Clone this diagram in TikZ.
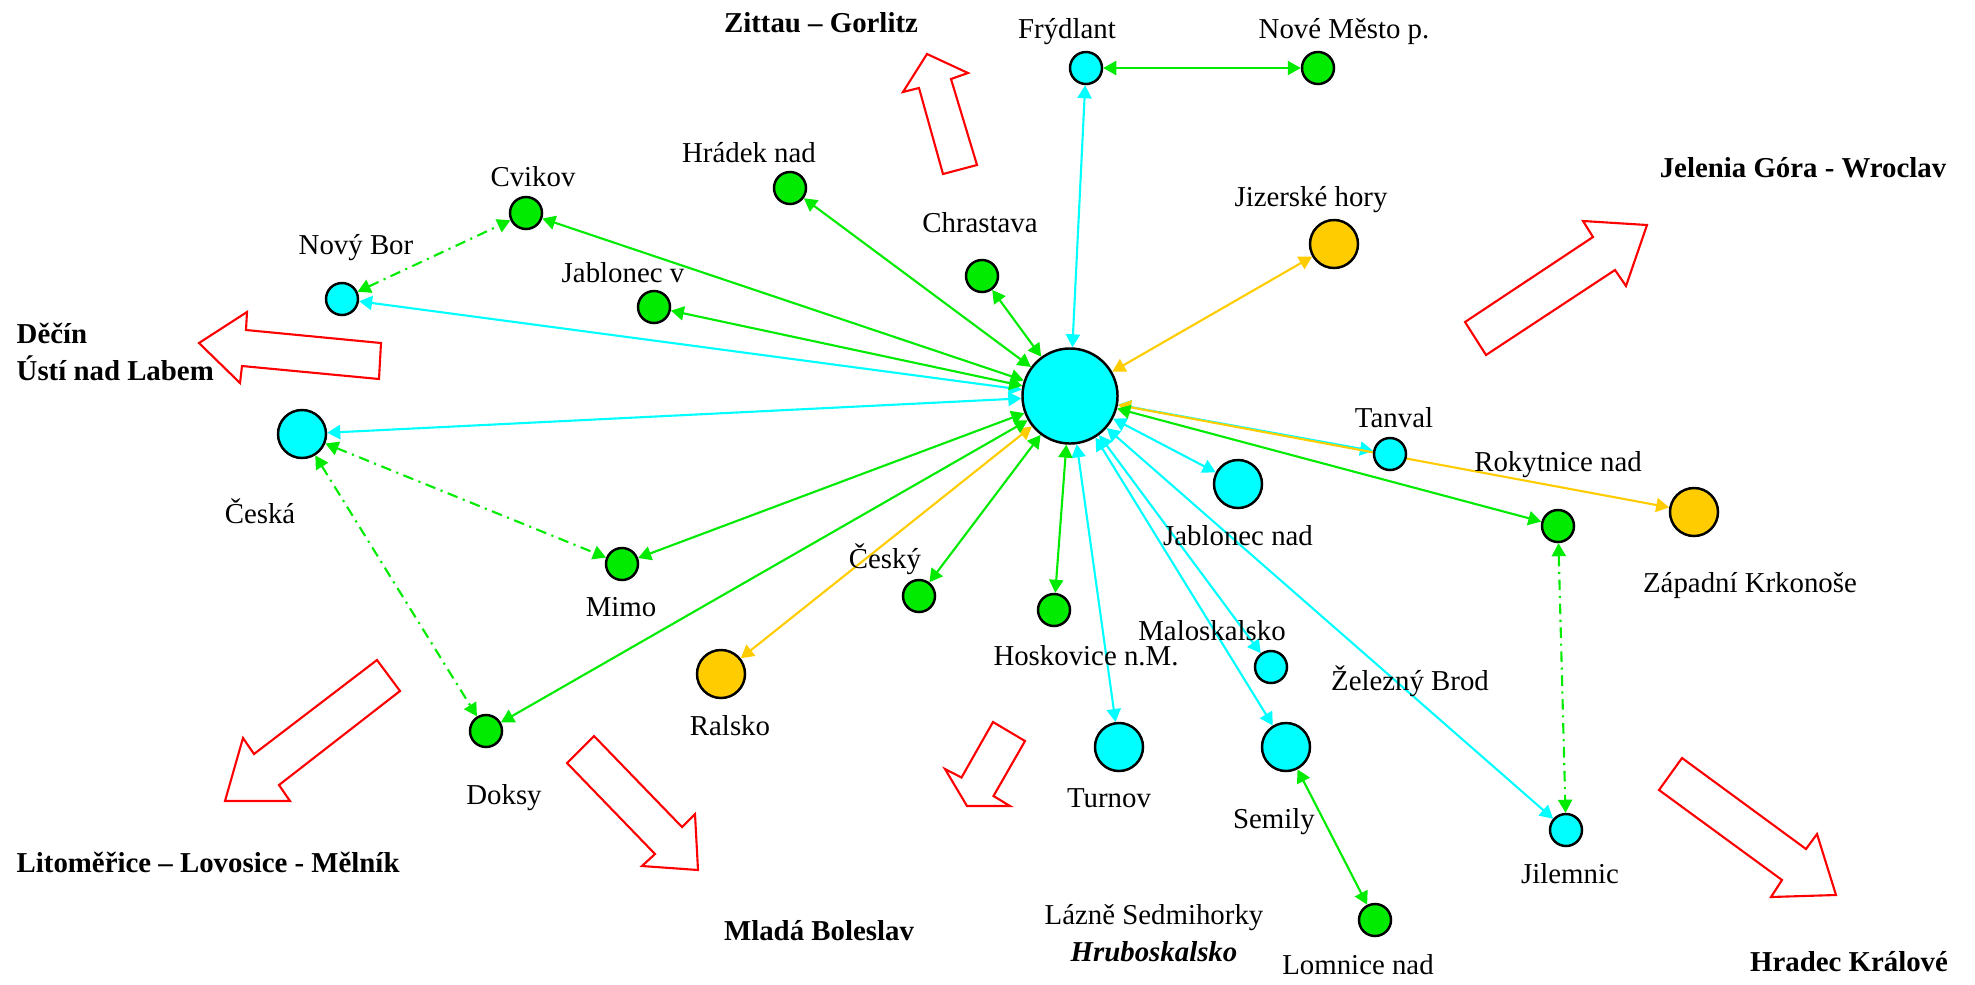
\documentclass[tikz,border=0pt]{standalone}
\usepackage{fontspec}
\setmainfont{Liberation Serif}
\usetikzlibrary{arrows.meta,backgrounds}
\definecolor{aqua}{RGB}{0,255,255}
\definecolor{lime}{RGB}{0,235,0}
\definecolor{gold}{RGB}{255,204,0}
\begin{document}
\begin{tikzpicture}[x=0.01cm, y=-0.01cm,
  town/.style={circle, draw, line width=0.7pt, inner sep=0pt, minimum size=0.32cm},
  mid/.style={town, minimum size=0.48cm},
  lab/.style={inner sep=0pt, font=\fontsize{8.2}{10}\selectfont},
  reg/.style={lab, font=\fontsize{8.2}{10}\selectfont\bfseries},
  link/.style={line width=0.6pt, {Triangle[length=3.7pt,width=4pt]}-{Triangle[length=3.7pt,width=4pt]}},
  alt/.style={link, dash pattern=on 3pt off 1.6pt on 0.6pt off 1.6pt},
  dir/.style={draw=red, line width=0.6pt, fill=white}]
\useasboundingbox (0,0) rectangle (1975,984);

\node[town, fill=aqua, minimum size=0.95cm] (lib) at (1070,396){};
\node[town, fill=aqua] (fry) at (1086,68){};
\node[town, fill=lime] (nmp) at (1318,68){};
\node[town, fill=lime] (hra) at (790,188){};
\node[town, fill=lime] (cvi) at (526,213){};
\node[town, fill=aqua] (nbo) at (342,299){};
\node[town, fill=lime] (jbv) at (654,307){};
\node[town, fill=lime] (chr) at (982,276){};
\node[mid, fill=gold] (jiz) at (1334,244){};
\node[mid, fill=aqua] (ces) at (302,434){};
\node[town, fill=lime] (mim) at (622,564){};
\node[town, fill=lime] (dok) at (486,731){};
\node[mid, fill=gold] (ral) at (721,674){};
\node[town, fill=lime] (cky) at (919,596){};
\node[town, fill=lime] (hos) at (1054,610){};
\node[mid, fill=aqua] (jbn) at (1238,484){};
\node[town, fill=aqua] (tan) at (1390,454){};
\node[town, fill=lime] (rok) at (1558,526){};
\node[mid, fill=gold] (zap) at (1694,512){};
\node[town, fill=aqua] (mal) at (1271,667){};
\node[mid, fill=aqua] (tur) at (1119,747){};
\node[mid, fill=aqua] (sem) at (1286,747){};
\node[town, fill=aqua] (jil) at (1566,830){};
\node[town, fill=lime] (lom) at (1375,920){};

\node[lab] (lfry) at (1067,32){Frýdlant};
\node[lab] (lnmp) at (1344,32){Nové Město p.};
\node[lab] (lhra) at (749,153){Hrádek nad};
\node[lab] (lcvi) at (533,177){Cvikov};
\node[lab] (lnbo) at (356,248){Nový Bor};
\node[lab] (ljbv) at (623,273){Jablonec v};
\node[lab] (lchr) at (980,223){Chrastava};
\node[lab] (ljiz) at (1311,200){Jizerské hory};
\node[lab] (lces) at (260,511){Česká};
\node[lab] (lmim) at (621,607){Mimo};
\node[lab] (ldok) at (504,798){Doksy};
\node[lab] (lral) at (730,726){Ralsko};
\node[lab] (lcky) at (885,559){Český};
\node[lab] (lhos) at (1086,656){Hoskovice n.M.};
\node[lab] (ljbn) at (1238,536){Jablonec nad};
\node[lab] (ltan) at (1394,418){Tanval};
\node[lab] (lrok) at (1558,465){Rokytnice nad};
\node[lab] (lzap) at (1750,586){Západní Krkonoše};
\node[lab] (lmal) at (1212,631){Maloskalsko};
\node[lab] (ltur) at (1109,798){Turnov};
\node[lab] (lsem) at (1274,822){Semily};
\node[lab] (lzel) at (1410,681){Železný Brod};
\node[lab] (ljil) at (1570,874){Jilemnic};
\node[lab] (llom) at (1358,965){Lomnice nad};
\node[lab] (llaz) at (1154,918){Lázně Sedmihorky};
\node[reg, font=\fontsize{8.2}{10}\selectfont\bfseries\itshape] (lhru) at (1154,952){Hruboskalsko};

\node[reg] (zit) at (821,23){Zittau – Gorlitz};
\node[reg] (jel) at (1803,168){Jelenia Góra - Wroclav};
\node[reg, anchor=west] (dec) at (16,333){Děčín};
\node[reg, anchor=west] (ust) at (16,368){Ústí nad Labem};
\node[reg, anchor=west] (lit) at (16,862){Litoměřice – Lovosice - Mělník};
\node[reg] (mbo) at (819,931){Mladá Boleslav};
\node[reg] (hkr) at (1849,962){Hradec Králové};

\draw[dir] (199,343) -- (247,312) -- (246,330) -- (381,343) -- (379,379) -- (242,366) -- (240,383) -- cycle;
\draw[dir] (927,54) -- (968,73) -- (951,79) -- (977,165) -- (943,174) -- (919,88) -- (903,92) -- cycle;
\draw[dir] (1647,225) -- (1583,221) -- (1593,237) -- (1465,322) -- (1486,355) -- (1615,270) -- (1626,286) -- cycle;
\draw[dir] (377,660) -- (254,754) -- (243,738) -- (225,801) -- (290,801) -- (279,785) -- (400,691) -- cycle;
\draw[dir] (594,736) -- (682,827) -- (695,814) -- (698,870) -- (642,866) -- (655,854) -- (567,763) -- cycle;
\draw[dir] (993,722) -- (1025,741) -- (993.5,796) -- (1010,806) -- (967,806) -- (945,769) -- (961.5,777.5) -- cycle;
\draw[dir] (1682,758) -- (1806,849) -- (1817,834) -- (1836,895) -- (1771,897) -- (1782,880) -- (1659,790) -- cycle;

\begin{pgfonlayer}{background}
\draw[link, aqua] (lib) -- (fry);
\draw[link, aqua] (lib) -- (nbo);
\draw[link, aqua] (lib) -- (ces);
\draw[link, aqua] (lib) -- (tur);
\draw[link, aqua] (lib) -- (sem);
\draw[link, aqua] (lib) -- (mal);
\draw[link, aqua] (lib) -- (jil);
\draw[link, aqua] (lib) -- (jbn);
\draw[link, aqua] (lib) -- (tan);
\draw[link, gold] (lib) -- (jiz);
\draw[link, gold] (lib) -- (ral);
\draw[link, gold] (lib) -- (zap);
\draw[link, lime] (lib) -- (hra);
\draw[link, lime] (lib) -- (cvi);
\draw[link, lime] (lib) -- (jbv);
\draw[link, lime] (lib) -- (chr);
\draw[link, lime] (lib) -- (mim);
\draw[link, lime] (lib) -- (dok);
\draw[link, lime] (lib) -- (cky);
\draw[link, lime] (lib) -- (hos);
\draw[link, lime] (lib) -- (rok);
\draw[link, lime] (fry) -- (nmp);
\draw[link, lime] (sem) -- (lom);
\draw[alt, lime] (nbo) -- (cvi);
\draw[alt, lime] (ces) -- (mim);
\draw[alt, lime] (ces) -- (dok);
\draw[alt, lime] (rok) -- (jil);
\end{pgfonlayer}

\end{tikzpicture}
\end{document}
